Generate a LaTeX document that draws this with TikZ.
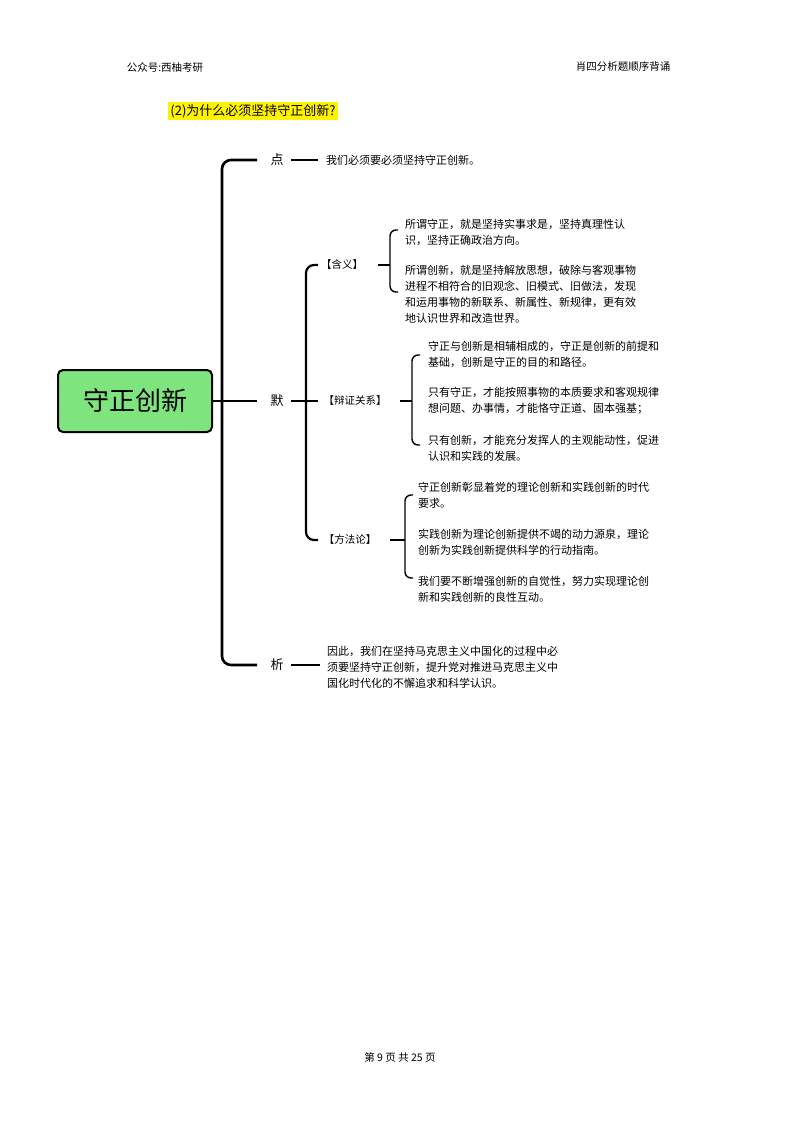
\documentclass[tikz,border=0pt]{standalone}
\usepackage{fontspec}
\setmainfont{Noto Sans CJK SC}
\newfontfamily\cjk{Noto Sans CJK SC}
\begin{document}
\begin{tikzpicture}[x=1pt,y=-1pt,
  trunk/.style={line width=2.6pt,rounded corners=9pt},
  br/.style={line width=1.4pt,rounded corners=6pt},
  lab/.style={font=\fontsize{13}{15}\selectfont},
  sub/.style={font=\fontsize{10.5}{13}\selectfont},
  txt/.style={anchor=west,align=left,inner sep=0pt,font=\fontsize{11}{16}\selectfont},
  hdr/.style={font=\fontsize{10.5}{12}\selectfont}]
\useasboundingbox (0,0) rectangle (800,1132);
\fill[white] (0,0) rectangle (800,1132);
\node[hdr] (h1) at (165,67) {公众号:西柚考研};
\node[hdr] (h2) at (623,67) {肖四分析题顺序背诵};
\node[fill=yellow,inner sep=2pt,font=\fontsize{13}{15}\selectfont] (t) at (253,111) {(2)为什么必须坚持守正创新?};
\node[draw=black,line width=2pt,fill=green!45!white!90!black,rounded corners=5pt,minimum width=154pt,minimum height=62pt,font=\fontsize{26}{28}\selectfont] (m) at (135,401) {守正创新};
\fill[green!40] (m.south west) ++(0,0);
% trunk
\coordinate (tk) at (222,401);
\draw[trunk] (m.east) -- (tk);
\draw[trunk] (257,160) -- (222,160) -- (222,665) -- (257,665);
\draw[trunk] (222,401) -- (257,401);
\node[lab] (d) at (277,160) {点};
\node[lab] (mo) at (277,401) {默};
\node[lab] (x) at (277,665) {析};
\draw[line width=1.6pt] (d.east)++(4,0) -- (318,160);
\node[txt] (dt) at (326,160) {我们必须要必须坚持守正创新。};
\draw[line width=1.6pt] (x.east)++(4,0) -- (320,665);
\node[txt] (xt) at (327,667) {因此，我们在坚持马克思主义中国化的过程中必\\须要坚持守正创新，提升党对推进马克思主义中\\国化时代化的不懈追求和科学认识。};
% second trunk
\draw[line width=1.6pt] (mo.east)++(4,0) -- (318,401);
\draw[trunk,line width=2.2pt,rounded corners=8pt] (318,265) -- (306,265) -- (306,540) -- (318,540);
\node[sub] (hy) at (342,265) {【含义】};
\node[sub] (bz) at (355,401) {【辩证关系】};
\node[sub] (ff) at (350,540) {【方法论】};
% hanyi
\draw[br] (378,265) -- (390,265);
\draw[br] (398,230) -- (390,230) -- (390,292) -- (398,292);
\node[txt] (a1) at (405,232) {所谓守正，就是坚持实事求是，坚持真理性认\\识，坚持正确政治方向。};
\node[txt] (a2) at (405,294) {所谓创新，就是坚持解放思想，破除与客观事物\\进程不相符合的旧观念、旧模式、旧做法，发现\\和运用事物的新联系、新属性、新规律，更有效\\地认识世界和改造世界。};
% bianzheng
\draw[br] (400,401) -- (412,401);
\draw[br] (420,355) -- (412,355) -- (412,445) -- (420,445);
\node[txt] (b1) at (428,354) {守正与创新是相辅相成的，守正是创新的前提和\\基础，创新是守正的目的和路径。};
\node[txt] (b2) at (428,401) {只有守正，才能按照事物的本质要求和客观规律\\想问题、办事情，才能恪守正道、固本强基；};
\node[txt] (b3) at (428,448) {只有创新，才能充分发挥人的主观能动性，促进\\认识和实践的发展。};
% fangfalun
\draw[br] (390,540) -- (405,540);
\draw[br] (413,495) -- (405,495) -- (405,578) -- (413,578);
\node[txt] (c1) at (418,495) {守正创新彰显着党的理论创新和实践创新的时代\\要求。};
\node[txt] (c2) at (418,542) {实践创新为理论创新提供不竭的动力源泉，理论\\创新为实践创新提供科学的行动指南。};
\node[txt] (c3) at (418,589) {我们要不断增强创新的自觉性，努力实现理论创\\新和实践创新的良性互动。};
\node[hdr] (f) at (400,1057) {第 9 页 共 25 页};
\end{tikzpicture}
\end{document}
